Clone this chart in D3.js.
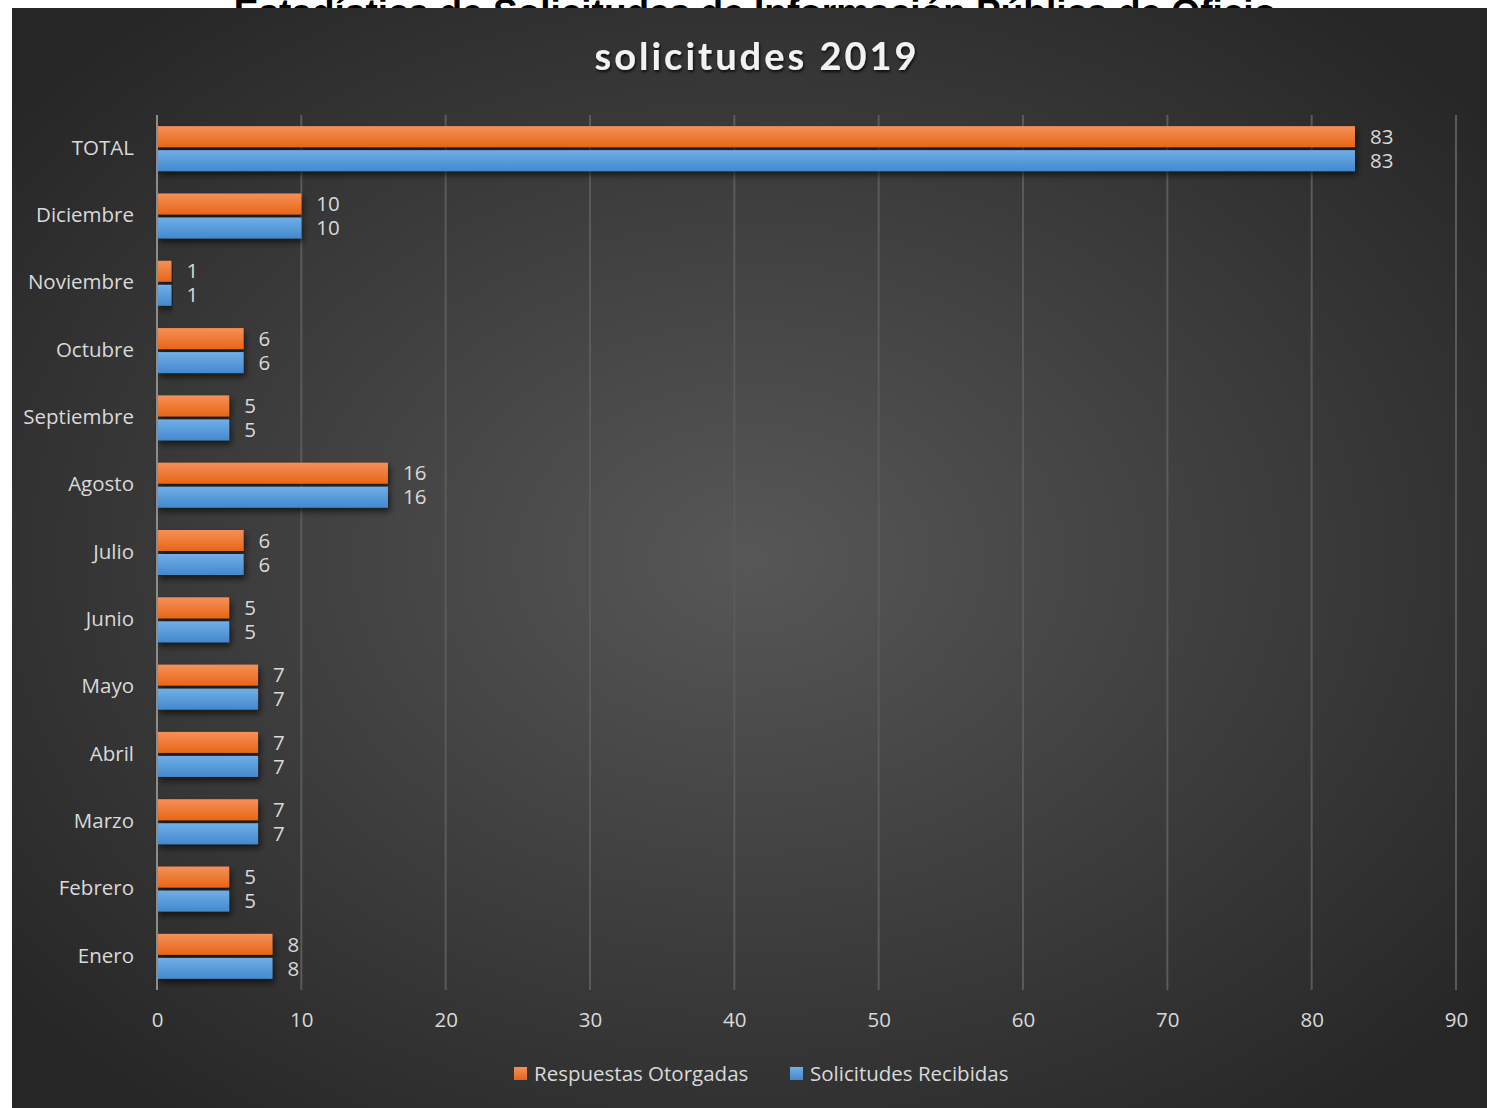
<!DOCTYPE html>
<html><head><meta charset="utf-8">
<script src="https://cdn.jsdelivr.net/npm/d3@7"></script>
<style>body{margin:0;background:#fff;}svg{display:block;font-family:"Open Sans",Lato,sans-serif;}</style>
</head><body>
<svg id="c" width="1487" height="1108"></svg>
<script>
const categories = ["TOTAL","Diciembre","Noviembre","Octubre","Septiembre","Agosto","Julio","Junio","Mayo","Abril","Marzo","Febrero","Enero"];
const respuestas = [83,10,1,6,5,16,6,5,7,7,7,5,8];
const solicitudes = [83,10,1,6,5,16,6,5,7,7,7,5,8];
const xTicks = [0,10,20,30,40,50,60,70,80,90];
const seriesNames = ["Respuestas Otorgadas","Solicitudes Recibidas"];

const svg = d3.select("#c");
const defs = svg.append("defs");
const rg = defs.append("radialGradient").attr("id","bg").attr("cx","50%").attr("cy","50%").attr("r","65%");
rg.append("stop").attr("offset","0%").attr("stop-color","#575757");
rg.append("stop").attr("offset","100%").attr("stop-color","#262626");
const og = defs.append("linearGradient").attr("id","og").attr("x1",0).attr("y1",0).attr("x2",0).attr("y2",1);
og.append("stop").attr("offset","0%").attr("stop-color","#f5905a");
og.append("stop").attr("offset","100%").attr("stop-color","#e86615");
const bgd = defs.append("linearGradient").attr("id","bgd").attr("x1",0).attr("y1",0).attr("x2",0).attr("y2",1);
bgd.append("stop").attr("offset","0%").attr("stop-color","#72aee6");
bgd.append("stop").attr("offset","100%").attr("stop-color","#4289cf");
const f = defs.append("filter").attr("id","sh").attr("x","-5%").attr("y","-30%").attr("width","115%").attr("height","180%");
f.append("feDropShadow").attr("dx",2).attr("dy",4).attr("stdDeviation",3).attr("flood-color","#000").attr("flood-opacity",0.6);
const tf = defs.append("filter").attr("id","tsh");
tf.append("feDropShadow").attr("dx",1).attr("dy",2).attr("stdDeviation",1.5).attr("flood-color","#000").attr("flood-opacity",0.8);

// outer title, partly hidden behind the chart area as in the reference
svg.append("text").attr("x",755).attr("y",25).attr("text-anchor","middle")
  .attr("font-family","'Liberation Sans',Arial,sans-serif").attr("font-weight","bold").attr("font-size",37)
  .attr("fill","#000").text("Estadística de Solicitudes de Información Pública de Oficio");

svg.append("rect").attr("x",12).attr("y",8).attr("width",1475).attr("height",1100).attr("fill","url(#bg)");

svg.append("text").attr("x",757).attr("y",70).attr("text-anchor","middle")
  .attr("font-family","Lato,sans-serif")
  .attr("font-weight","bold").attr("font-size",38).attr("letter-spacing",3)
  .attr("fill","#f2f2f2").attr("filter","url(#tsh)").text("solicitudes 2019");

const x = d3.scaleLinear().domain([0,90]).range([157,1456]);
const y = d3.scaleBand().domain(categories).range([115,990]);

svg.append("g").selectAll("line").data(xTicks.slice(1)).join("line")
  .attr("x1",d=>x(d)).attr("x2",d=>x(d)).attr("y1",115).attr("y2",990)
  .attr("stroke","#5a5a5a").attr("stroke-width",2);

const FS = 20.5;
const xAxis = svg.append("g").attr("transform","translate(0,990)")
  .call(d3.axisBottom(x).tickValues(xTicks).tickSize(0).tickPadding(22));
xAxis.attr("font-family",null).attr("font-size",null);
xAxis.select(".domain").remove();
xAxis.selectAll("text").attr("font-size",FS).attr("fill","#d9d9d9");

const yAxis = svg.append("g").attr("transform","translate(134,0)")
  .call(d3.axisLeft(y).tickSize(0).tickPadding(0));
yAxis.attr("font-family",null).attr("font-size",null);
yAxis.select(".domain").remove();
yAxis.selectAll("text").attr("font-size",FS).attr("fill","#d9d9d9").attr("dy","0.3em");

const bh = 21;
const rows = categories.map((c,i)=>({c,r:respuestas[i],s:solicitudes[i]}));
const g = svg.append("g");
g.selectAll("rect.o").data(rows).join("rect").attr("class","o")
  .attr("x",x(0)).attr("y",d=>y(d.c)+y.bandwidth()/2-bh-1.5).attr("width",d=>x(d.r)-x(0)).attr("height",bh)
  .attr("fill","url(#og)").attr("filter","url(#sh)");
g.selectAll("rect.b").data(rows).join("rect").attr("class","b")
  .attr("x",x(0)).attr("y",d=>y(d.c)+y.bandwidth()/2+1.5).attr("width",d=>x(d.s)-x(0)).attr("height",bh)
  .attr("fill","url(#bgd)").attr("filter","url(#sh)");
g.selectAll("text.o").data(rows).join("text").attr("class","o")
  .attr("x",d=>x(d.r)+15).attr("y",d=>y(d.c)+y.bandwidth()/2-bh/2-1.5).attr("dy","0.35em")
  .attr("font-size",FS).attr("fill","#d9d9d9").text(d=>d.r);
g.selectAll("text.b").data(rows).join("text").attr("class","b")
  .attr("x",d=>x(d.s)+15).attr("y",d=>y(d.c)+y.bandwidth()/2+bh/2+1.5).attr("dy","0.35em")
  .attr("font-size",FS).attr("fill","#d9d9d9").text(d=>d.s);

svg.append("line").attr("x1",x(0)).attr("x2",x(0)).attr("y1",115).attr("y2",990)
  .attr("stroke","#8c8c8c").attr("stroke-width",2);

const leg = [{n:seriesNames[0],c:"url(#og)",x:514},{n:seriesNames[1],c:"url(#bgd)",x:790}];
const lg = svg.append("g").selectAll("g").data(leg).join("g").attr("transform",d=>`translate(${d.x},1067)`);
lg.append("rect").attr("width",13).attr("height",13).attr("fill",d=>d.c);
lg.append("text").attr("x",20).attr("y",7).attr("dy","0.35em").attr("font-size",FS).attr("fill","#d9d9d9").text(d=>d.n);
</script>
</body></html>
